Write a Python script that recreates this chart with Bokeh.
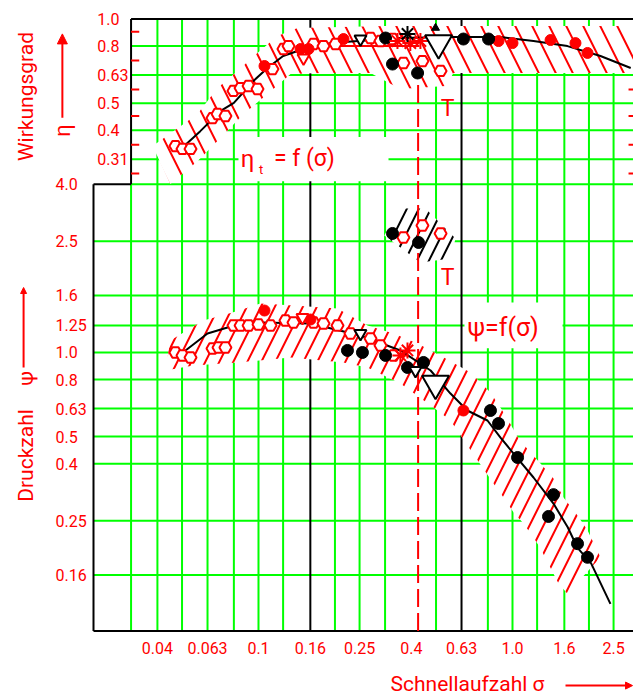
import math
from bokeh.plotting import figure
from bokeh.models import Range1d, Arrow, NormalHead
from bokeh.core.properties import value
from bokeh.embed import file_html
from bokeh.resources import INLINE

FONT = value("Roboto")
RED = "#ff0000"
GREEN = "#00ff00"
BLACK = "#000000"

# ---------------- axis ticks / labels ----------------
sigma_ticks = [0.04, 0.063, 0.1, 0.16, 0.25, 0.4, 0.63, 1.0, 1.6, 2.5]
sigma_tick_labels = ["0.04", "0.063", "0.1", "0.16", "0.25", "0.4", "0.63", "1.0", "1.6", "2.5"]
psi_ticks = [0.16, 0.25, 0.4, 0.5, 0.63, 0.8, 1.0, 1.25, 1.6, 2.5, 4.0]
psi_tick_labels = ["0.16", "0.25", "0.4", "0.5", "0.63", "0.8", "1.0", "1.25", "1.6", "2.5", "4.0"]
eta_ticks = [1.0, 0.8, 0.63, 0.5, 0.4, 0.315]
eta_tick_labels = ["1.0", "0.8", "0.63", "0.5", "0.4", "0.31"]
eta_minor_ticks = [0.9, 0.71, 0.56, 0.45, 0.355, 0.28]

grid_sigma = [0.0315, 0.04, 0.05, 0.063, 0.08, 0.1, 0.125, 0.16, 0.2, 0.25, 0.315,
              0.5, 0.63, 0.8, 1.0, 1.25, 1.6, 2.0, 2.5]
grid_sigma_black = [0.16, 0.63]
grid_psi = [0.16, 0.25, 0.4, 0.5, 0.63, 0.8, 1.0, 1.25, 1.6, 2.5, 4.0]
grid_eta = [0.8, 0.63, 0.5, 0.4, 0.315]

# ---------------- eta = f(sigma) ----------------
eta_curve_sigma = [0.052, 0.059, 0.071, 0.080, 0.0955, 0.1085, 0.125, 0.1425, 0.192,
                   0.362, 0.57, 0.897, 1.21, 1.646, 2.22, 2.92]
eta_curve_eta = [0.357, 0.397, 0.469, 0.501, 0.600, 0.668, 0.737, 0.768, 0.820,
                 0.855, 0.862, 0.862, 0.834, 0.800, 0.737, 0.668]

eta_band_up_sigma = [0.0383, 0.0463, 0.0575, 0.069, 0.0827, 0.0991, 0.1188, 0.1425, 0.316, 3.2]
eta_band_up_eta = [0.351, 0.397, 0.457, 0.566, 0.652, 0.756, 0.869, 0.929, 0.944, 0.944]
eta_band_lo_sigma = [0.045, 0.0575, 0.0708, 0.0873, 0.1085, 0.1337, 0.1754, 0.276, 0.316,
                     0.362, 0.545, 0.586, 3.2]
eta_band_lo_eta = [0.257, 0.310, 0.375, 0.457, 0.539, 0.636, 0.641, 0.641, 0.600,
                   0.562, 0.576, 0.641, 0.641]

eta_hex_sigma = [0.0471, 0.0502, 0.054, 0.0659, 0.069, 0.0741, 0.0797, 0.085, 0.0914, 0.0991,
                 0.1135, 0.1254, 0.1313, 0.1647, 0.1803, 0.201, 0.2761, 0.3022, 0.337,
                 0.372, 0.4421, 0.521]
eta_hex_eta = [0.351, 0.343, 0.343, 0.442, 0.457, 0.450, 0.553, 0.566, 0.576, 0.562,
               0.662, 0.781, 0.800, 0.814, 0.800, 0.814, 0.855, 0.834, 0.848,
               0.696, 0.707, 0.652]
eta_redfill_sigma = [0.1056, 0.1464, 0.1574, 0.2161, 0.881, 1.0, 1.412, 1.770, 1.974]
eta_redfill_eta = [0.679, 0.781, 0.781, 0.848, 0.834, 0.820, 0.841, 0.820, 0.756]
eta_redstar_sigma = [0.3525, 0.396, 0.434]
eta_redstar_eta = [0.834, 0.820, 0.834]
eta_blackfill_sigma = [0.3164, 0.337, 0.423, 0.641, 0.805]
eta_blackfill_eta = [0.855, 0.690, 0.641, 0.848, 0.848]
eta_blackstar_sigma = [0.386]
eta_blackstar_eta = [0.884]
eta_tri_sigma = [0.2521]
eta_tri_eta = [0.848]
eta_redtri_sigma = [0.1504]
eta_redtri_eta = [0.725]
eta_bigtri_sigma = [0.5117]
eta_bigtri_eta = [0.820]
eta_uptri_sigma = [0.4977]
eta_uptri_eta = [0.929]

# ---------------- psi = f(sigma) ----------------
psi_curve_sigma = [0.0516, 0.063, 0.0755, 0.1018, 0.16, 0.252, 0.362, 0.476, 0.570, 0.664,
                   0.797, 0.897, 1.01, 1.21, 1.45, 1.65, 1.80, 2.04, 2.43]
psi_curve_psi = [1.017, 1.169, 1.229, 1.280, 1.270, 1.150, 1.017, 0.862, 0.713, 0.620,
                 0.571, 0.496, 0.435, 0.357, 0.288, 0.237, 0.2005, 0.176, 0.126]

psi_band_up_sigma = [0.045, 0.0607, 0.079, 0.1018, 0.1373, 0.2047, 0.2686, 0.340, 0.423, 0.545,
                     0.683, 0.819, 0.939, 1.056, 1.177, 1.289, 1.450, 1.588, 1.803, 1.974, 2.219]
psi_band_up_psi = [1.104, 1.301, 1.390, 1.497, 1.473, 1.437, 1.249, 1.169, 1.077, 0.952,
                   0.848, 0.719, 0.595, 0.492, 0.439, 0.401, 0.354, 0.303, 0.261, 0.231, 0.185]
psi_band_lo_sigma = [0.043, 0.0554, 0.0827, 0.1337, 0.2161, 0.2686, 0.362, 0.4887, 0.570,
                     0.762, 0.842, 0.922, 1.009, 1.105, 1.210, 1.289, 1.518, 1.646]
psi_band_lo_psi = [0.862, 0.899, 0.921, 0.960, 0.921, 0.884, 0.774, 0.636, 0.571,
                   0.388, 0.340, 0.303, 0.268, 0.2445, 0.218, 0.199, 0.149, 0.137]

psi_hex_sigma = [0.0471, 0.0502, 0.054, 0.0659, 0.0696, 0.0741, 0.0797, 0.085, 0.0914, 0.1,
                 0.1115, 0.1277, 0.1373, 0.1647, 0.1803, 0.2047, 0.2302, 0.2761, 0.3022, 0.340]
psi_hex_psi = [1.0, 0.976, 0.960, 1.033, 1.042, 1.042, 1.249, 1.249, 1.249, 1.259,
               1.249, 1.301, 1.280, 1.280, 1.270, 1.249, 1.169, 1.122, 1.059, 0.976]
psi_redfill_sigma = [0.1056, 0.1602, 0.641]
psi_redfill_psi = [1.413, 1.312, 0.620]
psi_redstar_sigma = [0.362, 0.386]
psi_redstar_psi = [0.976, 1.017]
psi_blackfill_sigma = [0.224, 0.2566, 0.3164, 0.386, 0.4462, 0.819, 0.881, 1.047, 1.450,
                       1.386, 1.803, 1.974]
psi_blackfill_psi = [1.017, 1.0, 0.976, 0.884, 0.921, 0.620, 0.557, 0.421, 0.310,
                     0.259, 0.207, 0.185]
psi_tri_sigma = [0.2521, 0.415]
psi_tri_psi = [1.169, 0.862]
psi_redtri_sigma = [0.149]
psi_redtri_psi = [1.334]
psi_bigtri_sigma = [0.4977]
psi_bigtri_psi = [0.774]

# T operating point cluster
t_band_sigma = [0.313, 0.356, 0.454, 0.5965, 0.570, 0.434]
t_band_psi = [2.622, 3.275, 3.275, 2.558, 2.170, 2.099]
t_black_sigma = [0.337, 0.4266]
t_black_psi = [2.666, 2.475]
t_hex_sigma = [0.372, 0.4421, 0.521]
t_hex_psi = [2.579, 2.848, 2.666]

design_sigma = 0.425

# ---------------- layout constants (data units of the log/log canvas) ----------------
ETA_TO_PSI = 15.6          # eta panel placed on the common log axis
SIG_LO, SIG_HI = 0.009645, 2.995
PSI_LO, PSI_HI = 0.05781, 18.17
FRAME_SIG = 0.02241        # left border of the psi diagram
ETA_PANEL_SIG = 0.0315     # left border of the eta diagram
FRAME_PSI = 0.1008         # bottom border (sigma axis)
SPLIT_PSI = 4.0
TOP_PSI = ETA_TO_PSI * 1.0
SIG_LABEL_PSI = 0.0873     # row of sigma tick labels
PSI_LABEL_SIG = 0.01588    # column of psi tick labels
ETA_LABEL_SIG = 0.0232     # column of eta tick labels


def e2p(vals):
    return [ETA_TO_PSI * v for v in vals]


p = figure(width=633, height=698, x_axis_type="log", y_axis_type="log",
           x_axis_location=None, y_axis_location=None,
           x_range=Range1d(SIG_LO, SIG_HI), y_range=Range1d(PSI_LO, PSI_HI),
           output_backend="svg", toolbar_location=None, min_border=0)
p.outline_line_color = None
p.xgrid.visible = False
p.ygrid.visible = False
p.background_fill_color = "white"
p.border_fill_color = "white"

# ---------------- grid ----------------
gx0, gy0, gx1, gy1 = [], [], [], []
for s in grid_sigma:
    if s in grid_sigma_black:
        continue
    gx0.append(s); gx1.append(s)
    gy0.append(FRAME_PSI); gy1.append(SPLIT_PSI if s == ETA_PANEL_SIG else TOP_PSI)
for v in grid_psi:
    gx0.append(ETA_PANEL_SIG if v == SPLIT_PSI else FRAME_SIG); gx1.append(SIG_HI)
    gy0.append(v); gy1.append(v)
for e in grid_eta:
    gx0.append(ETA_PANEL_SIG); gx1.append(SIG_HI)
    gy0.append(ETA_TO_PSI * e); gy1.append(ETA_TO_PSI * e)
p.segment(gx0, gy0, gx1, gy1, line_color=GREEN, line_width=2)

bx0 = [s for s in grid_sigma_black] + [FRAME_SIG, FRAME_SIG, ETA_PANEL_SIG, ETA_PANEL_SIG, FRAME_SIG]
by0 = [FRAME_PSI for _ in grid_sigma_black] + [FRAME_PSI, SPLIT_PSI, SPLIT_PSI, TOP_PSI, FRAME_PSI]
bx1 = [s for s in grid_sigma_black] + [FRAME_SIG, ETA_PANEL_SIG, ETA_PANEL_SIG, SIG_HI, SIG_HI]
by1 = [TOP_PSI for _ in grid_sigma_black] + [SPLIT_PSI, SPLIT_PSI, TOP_PSI, TOP_PSI, FRAME_PSI]
p.segment(bx0, by0, bx1, by1, line_color=BLACK, line_width=2)

# eta minor ticks (left and right edges)
mt_y = e2p(eta_minor_ticks)
p.segment([ETA_PANEL_SIG] * len(mt_y), mt_y, [ETA_PANEL_SIG * 1.077] * len(mt_y), mt_y,
          line_color=RED, line_width=2)
p.segment([SIG_HI / 1.046] * len(mt_y), mt_y, [SIG_HI] * len(mt_y), mt_y,
          line_color=RED, line_width=2)

# white boxes behind the curve labels
p.quad(left=[0.0834, 0.647], right=[0.325, 1.574], bottom=[4.10, 1.035], top=[5.90, 1.51],
       fill_color="white", line_color=None)

# ---------------- tolerance bands ----------------
p.patch(eta_band_up_sigma + eta_band_lo_sigma[::-1],
        e2p(eta_band_up_eta) + e2p(eta_band_lo_eta[::-1]),
        fill_color="white", line_color=None,
        hatch_pattern="left_diagonal_line", hatch_color=RED, hatch_weight=2, hatch_scale=34)
p.patch(psi_band_up_sigma + psi_band_lo_sigma[::-1],
        psi_band_up_psi + psi_band_lo_psi[::-1],
        fill_color="white", line_color=None,
        hatch_pattern="right_diagonal_line", hatch_color=RED, hatch_weight=2, hatch_scale=28)
p.patch(t_band_sigma, t_band_psi, fill_color="white", line_color=None,
        hatch_pattern="right_diagonal_line", hatch_color=BLACK, hatch_weight=2, hatch_scale=24)

# design-point line
p.line([design_sigma, design_sigma], [FRAME_PSI, ETA_TO_PSI * 0.59], line_color=RED,
       line_width=2, line_dash="18 6")
p.line([0.146, 0.43], [ETA_TO_PSI * 0.8, ETA_TO_PSI * 0.8], line_color=RED, line_width=2)

# ---------------- curves ----------------
p.line(eta_curve_sigma, e2p(eta_curve_eta), line_color=BLACK, line_width=2)
p.line(psi_curve_sigma, psi_curve_psi, line_color=BLACK, line_width=2)

# ---------------- markers ----------------
def marks(xs, ys, marker, size, fill, line, lw=2):
    p.scatter(xs, ys, marker=marker, size=size, fill_color=fill, line_color=line, line_width=lw)

for xs, ys in [(eta_hex_sigma, e2p(eta_hex_eta)), (psi_hex_sigma, psi_hex_psi),
               (t_hex_sigma, t_hex_psi)]:
    marks(xs, ys, "hex", 12, "white", RED)
for xs, ys in [(eta_redfill_sigma, e2p(eta_redfill_eta)), (psi_redfill_sigma, psi_redfill_psi)]:
    marks(xs, ys, "circle", 11, RED, RED, 1)
for xs, ys in [(eta_blackfill_sigma, e2p(eta_blackfill_eta)), (psi_blackfill_sigma, psi_blackfill_psi),
               (t_black_sigma, t_black_psi)]:
    marks(xs, ys, "circle", 12, BLACK, BLACK, 1)
for xs, ys in [(eta_redstar_sigma, e2p(eta_redstar_eta)), (psi_redstar_sigma, psi_redstar_psi)]:
    marks(xs, ys, "asterisk", 16, RED, RED, 2)
marks(eta_blackstar_sigma, e2p(eta_blackstar_eta), "asterisk", 16, BLACK, BLACK, 2)
for xs, ys in [(eta_tri_sigma, e2p(eta_tri_eta)), (psi_tri_sigma, psi_tri_psi)]:
    marks(xs, ys, "inverted_triangle", 12, "white", BLACK, 2)
for xs, ys in [(eta_redtri_sigma, e2p(eta_redtri_eta)), (psi_redtri_sigma, psi_redtri_psi)]:
    marks(xs, ys, "inverted_triangle", 12, "white", RED, 2)
for xs, ys in [(eta_bigtri_sigma, e2p(eta_bigtri_eta)), (psi_bigtri_sigma, psi_bigtri_psi)]:
    marks(xs, ys, "inverted_triangle", 27, "white", BLACK, 2)
marks(eta_uptri_sigma, e2p(eta_uptri_eta), "triangle", 8, BLACK, BLACK, 1)


# ---------------- texts ----------------
def txt(xs, ys, texts, size, align="left", angle=0.0):
    p.text(x=xs, y=ys, text=texts, text_font=FONT, text_font_size=size, text_color=RED,
           text_align=align, text_baseline="middle", angle=angle)

# tick labels
txt(sigma_ticks, [SIG_LABEL_PSI] * len(sigma_ticks), sigma_tick_labels, "16px", "center")
txt([PSI_LABEL_SIG] * len(psi_ticks), psi_ticks, psi_tick_labels, "16px", "left")
txt([ETA_LABEL_SIG] * len(eta_ticks), e2p(eta_ticks), eta_tick_labels, "16px", "left")

# curve labels
txt([0.0905], [4.94], ["η"], "24px", "center")
txt([0.1025], [4.52], ["t"], "13px", "center")
txt([0.1150], [4.94], ["= f (σ)"], "23px", "left")
txt([0.665], [1.229], ["ψ=f(σ)"], "25px", "left")
txt([0.555, 0.555], [ETA_TO_PSI * 0.480, 1.855], ["T", "T"], "23px", "center")

# axis titles
txt([0.0121], [8.24], ["Wirkungsgrad"], "21px", "center", math.pi / 2)
txt([0.0169], [6.23], ["η"], "22px", "center", math.pi / 2)
txt([0.0121], [0.428], ["Druckzahl"], "21px", "center", math.pi / 2)
txt([0.0121], [0.807], ["ψ"], "21px", "center", math.pi / 2)
txt([0.331], [0.0654], ["Schnellaufzahl  σ"], "21px", "left")

# arrows
p.add_layout(Arrow(x_start=0.0169, y_start=6.92, x_end=0.0169, y_end=13.8,
                   line_color=RED, line_width=2,
                   end=NormalHead(size=10, fill_color=RED, line_color=RED)))
p.add_layout(Arrow(x_start=0.01189, y_start=0.884, x_end=0.01189, y_end=1.708,
                   line_color=RED, line_width=2,
                   end=NormalHead(size=6, fill_color=RED, line_color=RED)))
p.add_layout(Arrow(x_start=1.617, y_start=0.0643, x_end=2.969, y_end=0.0643,
                   line_color=RED, line_width=2,
                   end=NormalHead(size=7, fill_color=RED, line_color=RED)))

open("out.html", "w").write(file_html(p, INLINE))
